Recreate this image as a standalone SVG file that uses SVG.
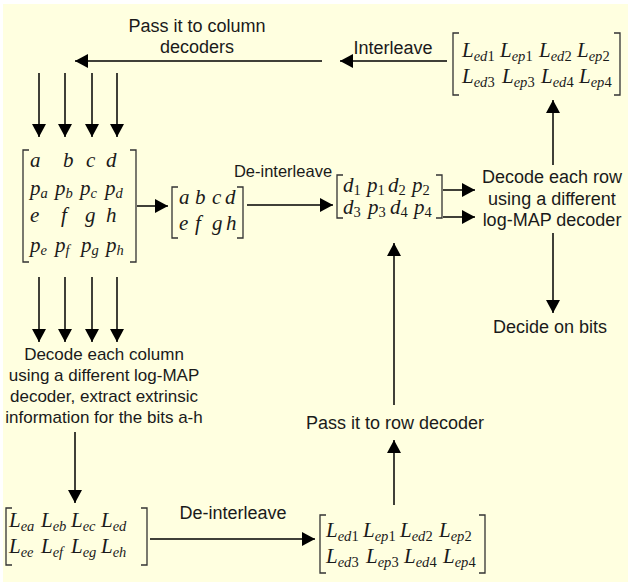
<svg xmlns="http://www.w3.org/2000/svg" width="631" height="586" viewBox="0 0 631 586">
<style>
.lbl { font-family: "Liberation Sans", Arial, sans-serif; font-size: 18px; fill: #1a1a1a; text-anchor: middle; }
.lbl17 { font-size: 17px; }
.m { font-family: "Liberation Serif", "Times New Roman", serif; font-style: italic; font-size: 21px; fill: #1a1a1a; }
.s { font-size: 14.5px; }
.n { font-style: normal; }
.br { fill: none; stroke: #333; stroke-width: 1.3; }
.cn { stroke: #000; stroke-width: 1.5; fill: none; marker-end: url(#ah); }
</style>
<defs>
<marker id="ah" markerUnits="userSpaceOnUse" markerWidth="13" markerHeight="14" refX="13" refY="7" orient="auto">
<path d="M0,0 L13,7 L0,14 z" fill="#000"/>
</marker>
</defs>
<rect x="3" y="4" width="625" height="578" fill="#FFFFE0"/>

<g id="connectors">
<line class="cn" x1="322" y1="61" x2="75" y2="61"/>
<line class="cn" x1="447" y1="61" x2="340" y2="61"/>
<line class="cn" x1="39" y1="73" x2="39" y2="137"/>
<line class="cn" x1="65" y1="73" x2="65" y2="137"/>
<line class="cn" x1="92" y1="73" x2="92" y2="137"/>
<line class="cn" x1="117" y1="73" x2="117" y2="137"/>
<line class="cn" x1="39" y1="277" x2="39" y2="342"/>
<line class="cn" x1="65" y1="277" x2="65" y2="342"/>
<line class="cn" x1="92" y1="277" x2="92" y2="342"/>
<line class="cn" x1="117" y1="277" x2="117" y2="342"/>
<line class="cn" x1="75" y1="432" x2="75" y2="503"/>
<line class="cn" x1="150" y1="539" x2="315" y2="539"/>
<line class="cn" x1="394" y1="505" x2="394" y2="440"/>
<line class="cn" x1="394" y1="405" x2="394" y2="243"/>
<line class="cn" x1="137" y1="206" x2="168" y2="206"/>
<line class="cn" x1="247" y1="205" x2="333" y2="205"/>
<line class="cn" x1="443" y1="190" x2="475" y2="190"/>
<line class="cn" x1="443" y1="217" x2="475" y2="217"/>
<line class="cn" x1="553" y1="165" x2="553" y2="100"/>
<line class="cn" x1="553" y1="233" x2="553" y2="313"/>
</g>

<g id="label-pass-column">
<text class="lbl" x="197" y="32">Pass it to column</text>
<text class="lbl" x="197" y="53">decoders</text>
</g>
<g id="label-interleave"><text class="lbl" x="393" y="54">Interleave</text></g>
<g id="label-deinterleave-mid"><text class="lbl" style="font-size:16.5px" x="283" y="177">De-interleave</text></g>
<g id="label-deinterleave-bottom"><text class="lbl" x="233" y="519">De-interleave</text></g>
<g id="label-pass-row"><text class="lbl" x="395" y="429">Pass it to row decoder</text></g>
<g id="node-decode-row">
<text class="lbl" x="552" y="183">Decode each row</text>
<text class="lbl" x="552" y="205">using a different</text>
<text class="lbl" x="552" y="226">log-MAP decoder</text>
</g>
<g id="node-decide"><text class="lbl" x="550" y="333">Decide on bits</text></g>
<g id="node-decode-column">
<text class="lbl lbl17" x="104" y="360">Decode each column</text>
<text class="lbl lbl17" x="104" y="381">using a different log-MAP</text>
<text class="lbl lbl17" x="104" y="402">decoder, extract extrinsic</text>
<text class="lbl lbl17" x="104" y="423">information for the bits a-h</text>
</g>

<g id="matrix-top-right">
<path class="br" d="M459,33 H453 V95 H459"/>
<path class="br" d="M614,33 H620 V95 H614"/>
<text class="m" x="462" y="57">L<tspan class="s" dy="4">ed</tspan><tspan class="s n">1</tspan></text>
<text class="m" x="500" y="57">L<tspan class="s" dy="4">ep</tspan><tspan class="s n">1</tspan></text>
<text class="m" x="539" y="57">L<tspan class="s" dy="4">ed</tspan><tspan class="s n">2</tspan></text>
<text class="m" x="577" y="57">L<tspan class="s" dy="4">ep</tspan><tspan class="s n">2</tspan></text>
<text class="m" x="462" y="83">L<tspan class="s" dy="4">ed</tspan><tspan class="s n">3</tspan></text>
<text class="m" x="502" y="83">L<tspan class="s" dy="4">ep</tspan><tspan class="s n">3</tspan></text>
<text class="m" x="541" y="83">L<tspan class="s" dy="4">ed</tspan><tspan class="s n">4</tspan></text>
<text class="m" x="579" y="83">L<tspan class="s" dy="4">ep</tspan><tspan class="s n">4</tspan></text>
</g>

<g id="matrix-big">
<path class="br" d="M29,150 H23 V262 H29"/>
<path class="br" d="M130,150 H136 V262 H130"/>
<text class="m" x="30" y="167">a</text>
<text class="m" x="63" y="167">b</text>
<text class="m" x="86" y="167">c</text>
<text class="m" x="106" y="167">d</text>
<text class="m" x="30" y="195">p<tspan class="s" dy="3">a</tspan></text>
<text class="m" x="55" y="195">p<tspan class="s" dy="3">b</tspan></text>
<text class="m" x="80" y="195">p<tspan class="s" dy="3">c</tspan></text>
<text class="m" x="105" y="195">p<tspan class="s" dy="3">d</tspan></text>
<text class="m" x="30" y="222">e</text>
<text class="m" x="61" y="222">f</text>
<text class="m" x="85" y="222">g</text>
<text class="m" x="106" y="222">h</text>
<text class="m" x="30" y="252">p<tspan class="s" dy="3">e</tspan></text>
<text class="m" x="55" y="252">p<tspan class="s" dy="3">f</tspan></text>
<text class="m" x="81" y="252">p<tspan class="s" dy="3">g</tspan></text>
<text class="m" x="106" y="252">p<tspan class="s" dy="3">h</tspan></text>
</g>

<g id="matrix-small">
<path class="br" d="M178,187 H172 V238 H178"/>
<path class="br" d="M237,187 H243 V238 H237"/>
<text class="m" x="179" y="204">a</text>
<text class="m" x="195" y="204">b</text>
<text class="m" x="212" y="204">c</text>
<text class="m" x="225" y="204">d</text>
<text class="m" x="179" y="230">e</text>
<text class="m" x="195" y="230">f</text>
<text class="m" x="212" y="230">g</text>
<text class="m" x="226" y="230">h</text>
</g>

<g id="matrix-d">
<path class="br" d="M343,175 H337 V218 H343"/>
<path class="br" d="M436,175 H442 V218 H436"/>
<text class="m" x="343" y="192">d<tspan class="s n" dy="3">1</tspan></text>
<text class="m" x="367" y="192">p<tspan class="s n" dy="3">1</tspan></text>
<text class="m" x="388" y="192">d<tspan class="s n" dy="3">2</tspan></text>
<text class="m" x="412" y="192">p<tspan class="s n" dy="3">2</tspan></text>
<text class="m" x="343" y="214">d<tspan class="s n" dy="3">3</tspan></text>
<text class="m" x="368" y="214">p<tspan class="s n" dy="3">3</tspan></text>
<text class="m" x="390" y="214">d<tspan class="s n" dy="3">4</tspan></text>
<text class="m" x="414" y="214">p<tspan class="s n" dy="3">4</tspan></text>
</g>

<g id="matrix-bottom-left">
<path class="br" d="M12,508 H6 V565 H12"/>
<path class="br" d="M141,508 H147 V565 H141"/>
<text class="m" x="9" y="527">L<tspan class="s" dy="4">ea</tspan></text>
<text class="m" x="41" y="527">L<tspan class="s" dy="4">eb</tspan></text>
<text class="m" x="71" y="527">L<tspan class="s" dy="4">ec</tspan></text>
<text class="m" x="101" y="527">L<tspan class="s" dy="4">ed</tspan></text>
<text class="m" x="9" y="553">L<tspan class="s" dy="4">ee</tspan></text>
<text class="m" x="41" y="553">L<tspan class="s" dy="4">ef</tspan></text>
<text class="m" x="71" y="553">L<tspan class="s" dy="4">eg</tspan></text>
<text class="m" x="101" y="553">L<tspan class="s" dy="4">eh</tspan></text>
</g>

<g id="matrix-bottom-right">
<path class="br" d="M326,515 H320 V573 H326"/>
<path class="br" d="M479,515 H485 V573 H479"/>
<text class="m" x="326" y="537">L<tspan class="s" dy="4">ed</tspan><tspan class="s n">1</tspan></text>
<text class="m" x="363" y="537">L<tspan class="s" dy="4">ep</tspan><tspan class="s n">1</tspan></text>
<text class="m" x="400" y="537">L<tspan class="s" dy="4">ed</tspan><tspan class="s n">2</tspan></text>
<text class="m" x="439" y="537">L<tspan class="s" dy="4">ep</tspan><tspan class="s n">2</tspan></text>
<text class="m" x="326" y="563">L<tspan class="s" dy="4">ed</tspan><tspan class="s n">3</tspan></text>
<text class="m" x="366" y="563">L<tspan class="s" dy="4">ep</tspan><tspan class="s n">3</tspan></text>
<text class="m" x="404" y="563">L<tspan class="s" dy="4">ed</tspan><tspan class="s n">4</tspan></text>
<text class="m" x="443" y="563">L<tspan class="s" dy="4">ep</tspan><tspan class="s n">4</tspan></text>
</g>
</svg>
